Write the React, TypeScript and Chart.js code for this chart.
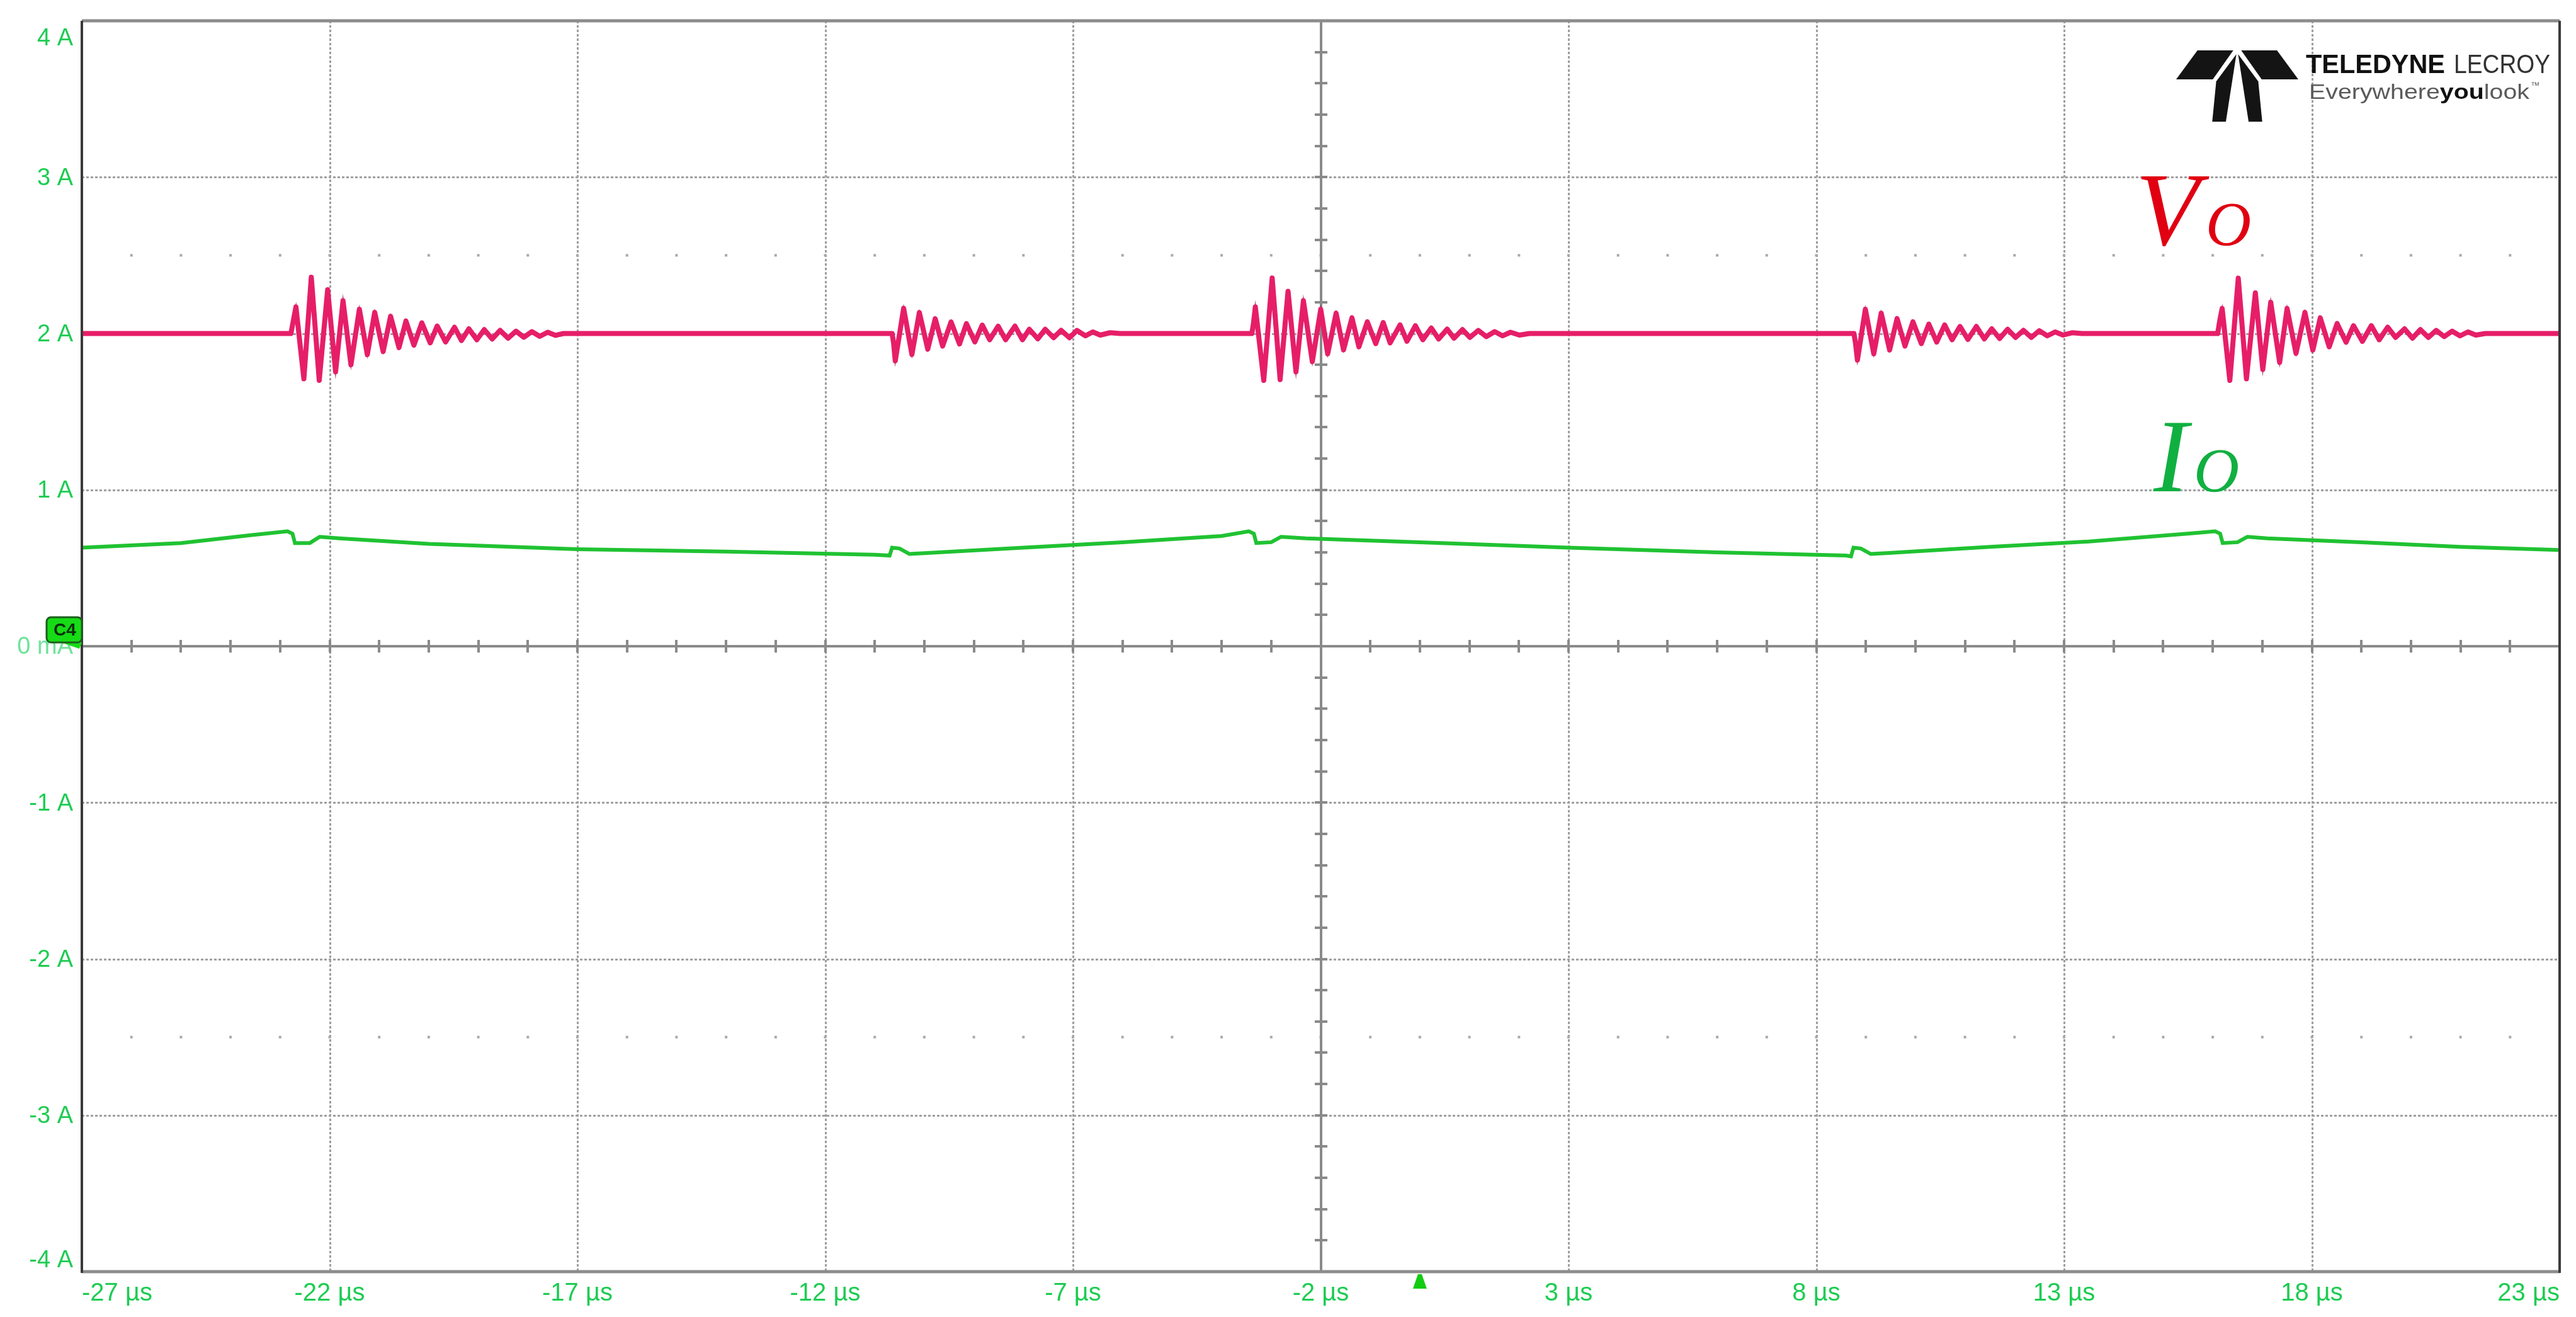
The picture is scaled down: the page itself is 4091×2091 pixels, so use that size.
import { useEffect, useRef } from "react";
import { Chart, registerables } from "chart.js";

Chart.register(...registerables);

const W = 4091;
const H = 2091;

// ---- axes ----
const xMin = -27;
const xMax = 23;
const yMin = -4;
const yMax = 4;
const xTickValues = [-27, -22, -17, -12, -7, -2, 3, 8, 13, 18, 23];
const xTickLabels = ["-27 µs", "-22 µs", "-17 µs", "-12 µs", "-7 µs", "-2 µs", "3 µs", "8 µs", "13 µs", "18 µs", "23 µs"];
const yTickValues = [4, 3, 2, 1, 0, -1, -2, -3, -4];
const yTickLabels = ["4 A", "3 A", "2 A", "1 A", "0 mA", "-1 A", "-2 A", "-3 A", "-4 A"];
const xCenter = -2;
const triggerTime = 0;

// ---- Vo trace (magenta) : flat baseline with ringing bursts ----
const voBaseline = 2.0;
const voBurstStarts = [-22.78, -10.65, -3.39, 8.76, 16.1];
// [time offset from burst start (µs), value]
const voBurst1 = [
  [0, 2.0], [0.04, 2.07], [0.1, 2.17], [0.26, 1.71], [0.41, 2.36], [0.57, 1.7], [0.74, 2.28], [0.9, 1.755],
  [1.05, 2.21], [1.21, 1.8], [1.38, 2.155], [1.54, 1.865], [1.69, 2.135], [1.86, 1.885], [2.01, 2.11], [2.18, 1.91],
  [2.32, 2.08], [2.48, 1.925], [2.64, 2.068], [2.81, 1.94], [2.95, 2.048], [3.12, 1.946], [3.3, 2.04], [3.44, 1.955],
  [3.59, 2.03], [3.75, 1.96], [3.9, 2.025], [4.06, 1.965], [4.22, 2.02], [4.38, 1.97], [4.54, 2.015], [4.7, 1.976],
  [4.86, 2.012], [5.02, 1.982], [5.18, 2.008], [5.34, 1.988], [5.5, 2.0],
];
const voBurst2 = [
  [0, 2.0], [0.03, 1.94], [0.064, 1.825], [0.233, 2.161], [0.4, 1.866], [0.55, 2.134], [0.72, 1.9], [0.87, 2.094],
  [1.02, 1.92], [1.19, 2.074], [1.36, 1.933], [1.5, 2.063], [1.67, 1.946], [1.82, 2.054], [1.97, 1.96], [2.14, 2.047],
  [2.29, 1.96], [2.48, 2.047], [2.63, 1.96], [2.77, 2.027], [2.94, 1.966], [3.09, 2.027], [3.26, 1.973], [3.41, 2.02],
  [3.58, 1.973], [3.73, 2.02], [3.9, 1.985], [4.05, 2.01], [4.2, 1.99], [4.4, 2.005], [4.6, 2.0],
];
const voBurst3 = [
  [0, 2.0], [0.03, 2.06], [0.07, 2.17], [0.24, 1.7], [0.41, 2.355], [0.57, 1.705], [0.73, 2.27], [0.89, 1.755],
  [1.04, 2.21], [1.22, 1.82], [1.39, 2.155], [1.53, 1.87], [1.7, 2.13], [1.85, 1.895], [2.02, 2.1], [2.16, 1.915],
  [2.33, 2.075], [2.5, 1.935], [2.65, 2.07], [2.79, 1.94], [2.99, 2.055], [3.13, 1.95], [3.3, 2.05], [3.45, 1.96],
  [3.62, 2.035], [3.77, 1.965], [3.94, 2.028], [4.08, 1.97], [4.25, 2.025], [4.4, 1.975], [4.57, 2.02], [4.73, 1.98],
  [4.9, 2.012], [5.06, 1.985], [5.22, 2.008], [5.4, 1.99], [5.6, 2.0],
];
const voBurst4 = [
  [0, 2.0], [0.03, 1.94], [0.07, 1.83], [0.23, 2.155], [0.4, 1.87], [0.55, 2.13], [0.72, 1.895], [0.87, 2.095],
  [1.03, 1.92], [1.19, 2.075], [1.36, 1.935], [1.51, 2.06], [1.67, 1.945], [1.83, 2.055], [1.98, 1.96], [2.14, 2.045],
  [2.3, 1.962], [2.47, 2.045], [2.63, 1.965], [2.78, 2.03], [2.94, 1.968], [3.1, 2.027], [3.26, 1.975], [3.42, 2.02],
  [3.58, 1.975], [3.74, 2.018], [3.9, 1.985], [4.06, 2.01], [4.22, 1.99], [4.4, 2.005], [4.6, 2.0],
];
const voBurst5 = [
  [0, 2.0], [0.04, 2.08], [0.09, 2.16], [0.245, 1.7], [0.415, 2.354], [0.58, 1.71], [0.76, 2.26], [0.91, 1.77],
  [1.07, 2.2], [1.25, 1.815], [1.4, 2.16], [1.58, 1.873], [1.76, 2.135], [1.92, 1.894], [2.07, 2.1], [2.25, 1.915],
  [2.41, 2.064], [2.59, 1.944], [2.74, 2.05], [2.92, 1.95], [3.1, 2.05], [3.26, 1.96], [3.43, 2.04], [3.59, 1.975],
  [3.77, 2.03], [3.93, 1.97], [4.09, 2.025], [4.25, 1.975], [4.41, 2.02], [4.57, 1.98], [4.73, 2.015], [4.89, 1.985],
  [5.05, 2.01], [5.21, 1.99], [5.4, 2.0],
];
const voBursts = [voBurst1, voBurst2, voBurst3, voBurst4, voBurst5];

// ---- Io trace (green) ----
const ioTimes = [
  -27, -25, -23.6, -22.85, -22.75, -22.7, -22.4, -22.2, -21.8, -20, -17, -14, -11, -10.7, -10.65, -10.5, -10.3, -10,
  -8, -6, -4, -3.45, -3.35, -3.3, -3, -2.8, -2.3, 0, 3, 6, 8.6, 8.7, 8.75, 8.9, 9.1, 9.4, 11.5, 13.5, 15.5, 16.05,
  16.15, 16.2, 16.5, 16.7, 17.1, 19, 21, 23,
];
const ioCurrent = [
  0.63, 0.66, 0.71, 0.735, 0.72, 0.66, 0.66, 0.7, 0.69, 0.655, 0.62, 0.605, 0.585, 0.58, 0.63, 0.625, 0.59, 0.595,
  0.63, 0.665, 0.705, 0.735, 0.72, 0.66, 0.665, 0.7, 0.69, 0.665, 0.63, 0.6, 0.58, 0.575, 0.63, 0.625, 0.59, 0.595,
  0.635, 0.67, 0.72, 0.735, 0.72, 0.66, 0.665, 0.7, 0.69, 0.665, 0.635, 0.615,
];

function buildVo() {
  const pts: { x: number; y: number }[] = [{ x: xMin, y: voBaseline }];
  voBursts.forEach((b, i) => {
    b.forEach(([dt, v]) => pts.push({ x: voBurstStarts[i] + dt, y: v }));
  });
  pts.push({ x: xMax, y: voBaseline });
  return pts;
}
const ioData = ioTimes.map((t, i) => ({ x: t, y: ioCurrent[i] }));

const LABEL_GREEN = "#1dcc52";
const SANS = '"Liberation Sans", Arial, "DejaVu Sans", sans-serif';
const SERIF = '"Liberation Serif", "DejaVu Serif", serif';

function fitText(ctx: CanvasRenderingContext2D, text: string, x: number, y: number, w: number) {
  const m = ctx.measureText(text).width;
  ctx.save();
  ctx.translate(x, y);
  ctx.scale(w / m, 1);
  ctx.fillText(text, 0, 0);
  ctx.restore();
}

function drawLogo(ctx: CanvasRenderingContext2D) {
  const X0 = 3456, Y0 = 80, LW = 194, LH = 112;
  const P = (dx: number, dy: number): [number, number] => [X0 + ((dx - 125) / 430) * LW, Y0 + ((dy - 135) / 280) * LH];
  const polys = [
    [[200, 135], [326, 135], [254, 250], [125, 250]],
    [[480, 135], [354, 135], [426, 250], [555, 250]],
    [[337, 150], [266, 258], [252, 418], [300, 418]],
    [[343, 150], [414, 258], [428, 418], [380, 418]],
  ];
  ctx.fillStyle = "#141414";
  polys.forEach((poly) => {
    ctx.beginPath();
    poly.forEach(([dx, dy], i) => {
      const [px, py] = P(dx, dy);
      if (i === 0) ctx.moveTo(px, py);
      else ctx.lineTo(px, py);
    });
    ctx.closePath();
    ctx.fill();
  });
  ctx.textAlign = "left";
  ctx.textBaseline = "alphabetic";
  ctx.font = `bold 42px ${SANS}`;
  ctx.fillStyle = "#111";
  fitText(ctx, "TELEDYNE", 3662, 116, 221);
  ctx.font = `42px ${SANS}`;
  ctx.fillStyle = "#333";
  fitText(ctx, "LECROY", 3897, 116, 153);
  // tagline
  const parts: [string, string, string][] = [
    ["Everywhere", `34px ${SANS}`, "#5a5a5a"],
    ["you", `bold 34px ${SANS}`, "#111"],
    ["look", `34px ${SANS}`, "#5a5a5a"],
  ];
  let total = 0;
  const widths = parts.map(([t, f]) => {
    ctx.font = f;
    const w = ctx.measureText(t).width;
    total += w;
    return w;
  });
  const s = 350 / total;
  ctx.save();
  ctx.translate(3667, 157);
  ctx.scale(s, 1);
  let cx = 0;
  parts.forEach(([t, f, c], i) => {
    ctx.font = f;
    ctx.fillStyle = c;
    ctx.fillText(t, cx, 0);
    cx += widths[i];
  });
  ctx.restore();
  ctx.font = `14px ${SANS}`;
  ctx.fillStyle = "#5a5a5a";
  ctx.fillText("™", 4019, 140);
}

const scopePlugin = {
  id: "scopeGraticule",
  beforeDraw(chart: any) {
    const { ctx } = chart;
    ctx.save();
    ctx.fillStyle = "#ffffff";
    ctx.fillRect(0, 0, chart.width, chart.height);
    ctx.restore();
  },
  beforeDatasetsDraw(chart: any) {
    const { ctx, chartArea: a, scales } = chart;
    const x = scales.x;
    const y = scales.y;
    ctx.save();
    // dotted major grid
    ctx.strokeStyle = "#a0a0a0";
    ctx.lineWidth = 3;
    ctx.setLineDash([4, 3]);
    xTickValues.forEach((v) => {
      if (v === xMin || v === xMax || v === xCenter) return;
      const px = Math.round(x.getPixelForValue(v)) + 0.5;
      ctx.beginPath();
      ctx.moveTo(px, a.top);
      ctx.lineTo(px, a.bottom);
      ctx.stroke();
    });
    yTickValues.forEach((v) => {
      if (v === yMin || v === yMax || v === 0) return;
      const py = Math.round(y.getPixelForValue(v)) + 0.5;
      ctx.beginPath();
      ctx.moveTo(a.left, py);
      ctx.lineTo(a.right, py);
      ctx.stroke();
    });
    ctx.setLineDash([]);
    // dot rows at +/-2.5 div
    ctx.fillStyle = "#a8a8a8";
    [2.5, -2.5].forEach((v) => {
      const py = y.getPixelForValue(v);
      for (let t = xMin + 1; t < xMax; t += 1) {
        const px = x.getPixelForValue(t);
        ctx.fillRect(px - 2, py - 2, 4, 4);
      }
    });
    // center axes
    const cx = Math.round(x.getPixelForValue(xCenter));
    const cy = Math.round(y.getPixelForValue(0));
    ctx.strokeStyle = "#8a8a8a";
    ctx.lineWidth = 4;
    ctx.beginPath();
    ctx.moveTo(cx, a.top);
    ctx.lineTo(cx, a.bottom);
    ctx.moveTo(a.left, cy);
    ctx.lineTo(a.right, cy);
    ctx.stroke();
    ctx.lineWidth = 4;
    ctx.beginPath();
    for (let t = xMin + 1; t < xMax; t += 1) {
      const px = Math.round(x.getPixelForValue(t));
      ctx.moveTo(px, cy - 10);
      ctx.lineTo(px, cy + 10);
    }
    for (let k = -19; k <= 19; k++) {
      const py = Math.round(y.getPixelForValue(k * 0.2));
      ctx.moveTo(cx - 10, py);
      ctx.lineTo(cx + 10, py);
    }
    ctx.stroke();
    ctx.restore();
  },
  afterDatasetsDraw(chart: any) {
    const { ctx, chartArea: a, scales } = chart;
    const x = scales.x;
    const y = scales.y;
    ctx.save();
    // border
    ctx.lineWidth = 5;
    ctx.strokeStyle = "#8c8c8c";
    ctx.beginPath();
    ctx.moveTo(a.left, a.top);
    ctx.lineTo(a.right, a.top);
    ctx.moveTo(a.left, a.bottom);
    ctx.lineTo(a.right, a.bottom);
    ctx.stroke();
    ctx.lineWidth = 4;
    ctx.strokeStyle = "#3a3a3a";
    ctx.beginPath();
    ctx.moveTo(a.left, a.top);
    ctx.lineTo(a.left, a.bottom + 2);
    ctx.moveTo(a.right, a.top);
    ctx.lineTo(a.right, a.bottom + 2);
    ctx.stroke();

    // y labels
    ctx.font = `38px ${SANS}`;
    ctx.textAlign = "right";
    ctx.textBaseline = "middle";
    yTickValues.forEach((v, i) => {
      let py = y.getPixelForValue(v);
      py = Math.min(Math.max(py, a.top + 27), a.bottom - 19);
      ctx.fillStyle = v === 0 ? "#6fe39a" : LABEL_GREEN;
      ctx.fillText(yTickLabels[i], a.left - 14, py + 2);
    });
    // x labels
    ctx.font = `40px ${SANS}`;
    ctx.fillStyle = LABEL_GREEN;
    xTickValues.forEach((v, i) => {
      const px = x.getPixelForValue(v);
      if (i === 0) ctx.textAlign = "left";
      else if (i === xTickValues.length - 1) ctx.textAlign = "right";
      else ctx.textAlign = "center";
      ctx.fillText(xTickLabels[i], px, a.bottom + 35);
    });

    // C4 channel marker
    const zy = y.getPixelForValue(0);
    ctx.fillStyle = "#16dc16";
    ctx.beginPath();
    ctx.moveTo(97, zy - 6);
    ctx.lineTo(a.left, zy - 6);
    ctx.lineTo(a.left - 4, zy + 4);
    ctx.closePath();
    ctx.fill();
    ctx.beginPath();
    ctx.roundRect(74, zy - 46, a.left - 74, 40, 7);
    ctx.fill();
    ctx.lineWidth = 3;
    ctx.strokeStyle = "#1d5e1d";
    ctx.stroke();
    ctx.fillStyle = "#0b2e0b";
    ctx.font = `bold 28px ${SANS}`;
    ctx.textAlign = "center";
    ctx.textBaseline = "middle";
    ctx.fillText("C4", 103, zy - 25);

    // trigger marker
    const tx = x.getPixelForValue(triggerTime);
    ctx.fillStyle = "#12cc12";
    ctx.beginPath();
    ctx.moveTo(tx - 3, a.bottom + 4);
    ctx.lineTo(tx + 3, a.bottom + 4);
    ctx.lineTo(tx + 11, a.bottom + 27);
    ctx.lineTo(tx - 11, a.bottom + 27);
    ctx.closePath();
    ctx.fill();

    // trace names
    ctx.textAlign = "left";
    ctx.textBaseline = "alphabetic";
    ctx.fillStyle = "#e00012";
    ctx.font = `italic 165px ${SERIF}`;
    ctx.fillText("V", 3392, 389);
    ctx.font = `italic 100px ${SERIF}`;
    ctx.fillText("O", 3503, 389);
    ctx.fillStyle = "#10b040";
    ctx.font = `italic 165px ${SERIF}`;
    ctx.fillText("I", 3420, 780);
    ctx.font = `italic 100px ${SERIF}`;
    ctx.fillText("O", 3484, 780);

    drawLogo(ctx);
    ctx.restore();
  },
};

export default function App() {
  const ref = useRef<HTMLCanvasElement>(null);
  useEffect(() => {
    document.body.style.margin = "0";
    const voData = buildVo();
    const chart = new Chart(ref.current as HTMLCanvasElement, {
      type: "scatter",
      data: {
        datasets: [
          {
            label: "Io",
            data: ioData,
            showLine: true,
            borderColor: "#20c232",
            borderWidth: 6,
            pointRadius: 0,
            tension: 0,
          },
          {
            label: "Vo",
            data: voData,
            showLine: true,
            borderColor: "#e61e68",
            borderWidth: 8,
            pointRadius: 0,
            tension: 0,
            borderJoinStyle: "round",
          },
          {
            label: "Vo core",
            data: voData,
            showLine: true,
            borderColor: "rgba(150,10,58,0.8)",
            borderWidth: 2.5,
            pointRadius: 0,
            tension: 0,
          },
        ],
      },
      options: {
        animation: false,
        responsive: false,
        devicePixelRatio: 1,
        events: [],
        layout: { padding: { left: 130, right: W - 4065, top: 33, bottom: H - 2019 } },
        plugins: { legend: { display: false }, tooltip: { enabled: false } },
        scales: {
          x: { type: "linear", min: xMin, max: xMax, display: false },
          y: { type: "linear", min: yMin, max: yMax, display: false },
        },
      },
      plugins: [scopePlugin],
    } as any);
    return () => chart.destroy();
  }, []);
  return (
    <div style={{ position: "absolute", left: 0, top: 0, width: W, height: H, background: "#fff" }}>
      <canvas ref={ref} width={W} height={H} style={{ display: "block", width: W, height: H }} />
    </div>
  );
}
